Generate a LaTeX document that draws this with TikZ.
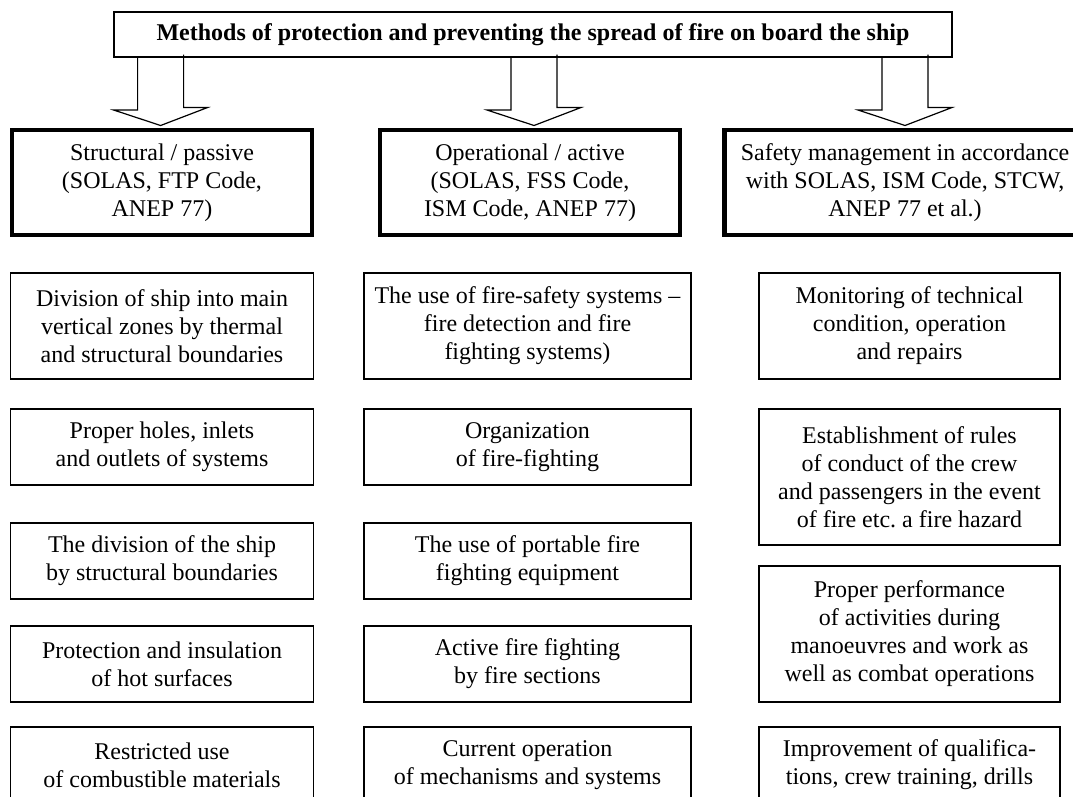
\documentclass[tikz,border=0pt]{standalone}
\usepackage{fontspec}
\setmainfont{Liberation Serif}
\frenchspacing
\begin{document}
\begin{tikzpicture}[x={(1pt,0pt)},y={(0pt,-1pt)},
  txt/.style={font=\fontsize{24}{28}\selectfont, align=center, inner sep=0pt},
  titlebox/.style={txt, draw, line width=1.2pt, minimum width=838pt, minimum height=45pt, font=\fontsize{24}{28}\selectfont\bfseries},
  headbox/.style={txt, draw, line width=4.5pt, minimum height=105pt},
  itembox/.style={txt, draw, line width=1.5pt},
  barrow/.style={draw, line width=1.2pt, line join=miter}
]
\useasboundingbox (0,0) rectangle (1073,796);

\node[titlebox] (title) at (533,34.5) {Methods of protection and preventing the spread of fire on board the ship};

\node[headbox, minimum width=300pt] (s1) at (162,182.5) {Structural / passive\\(SOLAS, FTP Code,\\ANEP 77)};
\node[headbox, minimum width=300pt] (s2) at (530,182.5) {Operational / active\\(SOLAS, FSS Code,\\ISM Code, ANEP 77)};
\node[headbox, minimum width=361.5pt] (s3) at (905,182.5) {Safety management in accordance\\with SOLAS, ISM Code, STCW,\\ANEP 77 et al.)};

\coordinate (a1) at (160.6,57);
\coordinate (a2) at (534,57);
\coordinate (a3) at (905,57);
\foreach \a/\s in {a1/s1,a2/s2,a3/s3}{
  \draw[barrow] (\a) ++(-23,0) -- ++(0,53) -- ++(-24,0) -- ([yshift=2.25pt]\a |- \s.north) -- ++(47,-18) -- ++(-24,0) -- ++(0,-53);
}

% left column
\node[itembox, minimum width=303pt, minimum height=106pt] (l1) at (162,326) {Division of ship into main\\vertical zones by thermal\\and structural boundaries};
\node[itembox, minimum width=303pt, minimum height=76pt] (l2) at (162,447) {Proper holes, inlets\\and outlets of systems};
\node[itembox, minimum width=303pt, minimum height=76pt] (l3) at (162,561) {The division of the ship\\by structural boundaries};
\node[itembox, minimum width=303pt, minimum height=76pt] (l4) at (162,664) {Protection and insulation\\of hot surfaces};
\node[itembox, minimum width=303pt, minimum height=76pt] (l5) at (162,765) {Restricted use\\of combustible materials};

% middle column
\node[itembox, minimum width=327pt, minimum height=106pt] (m1) at (527.5,326) {The use of fire-safety systems --\\fire detection and fire\\fighting systems)};
\node[itembox, minimum width=327pt, minimum height=76pt] (m2) at (527.5,447) {Organization\\of fire-fighting};
\node[itembox, minimum width=327pt, minimum height=76pt] (m3) at (527.5,561) {The use of portable fire\\fighting equipment};
\node[itembox, minimum width=327pt, minimum height=76pt] (m4) at (527.5,664) {Active fire fighting\\by fire sections};
\node[itembox, minimum width=327pt, minimum height=76pt] (m5) at (527.5,765) {Current operation\\of mechanisms and systems};

% right column
\node[itembox, minimum width=301pt, minimum height=106pt] (r1) at (909.5,326) {Monitoring of technical\\condition, operation\\and repairs};
\node[itembox, minimum width=301pt, minimum height=136pt] (r2) at (909.5,477) {Establishment of rules\\of conduct of the crew\\and passengers in the event\\of fire etc. a fire hazard};
\node[itembox, minimum width=301pt, minimum height=136pt] (r3) at (909.5,634) {Proper performance\\of activities during\\manoeuvres and work as\\well as combat operations};
\node[itembox, minimum width=301pt, minimum height=76pt] (r4) at (909.5,765) {Improvement of qualifica-\\tions, crew training, drills};
\end{tikzpicture}
\end{document}
